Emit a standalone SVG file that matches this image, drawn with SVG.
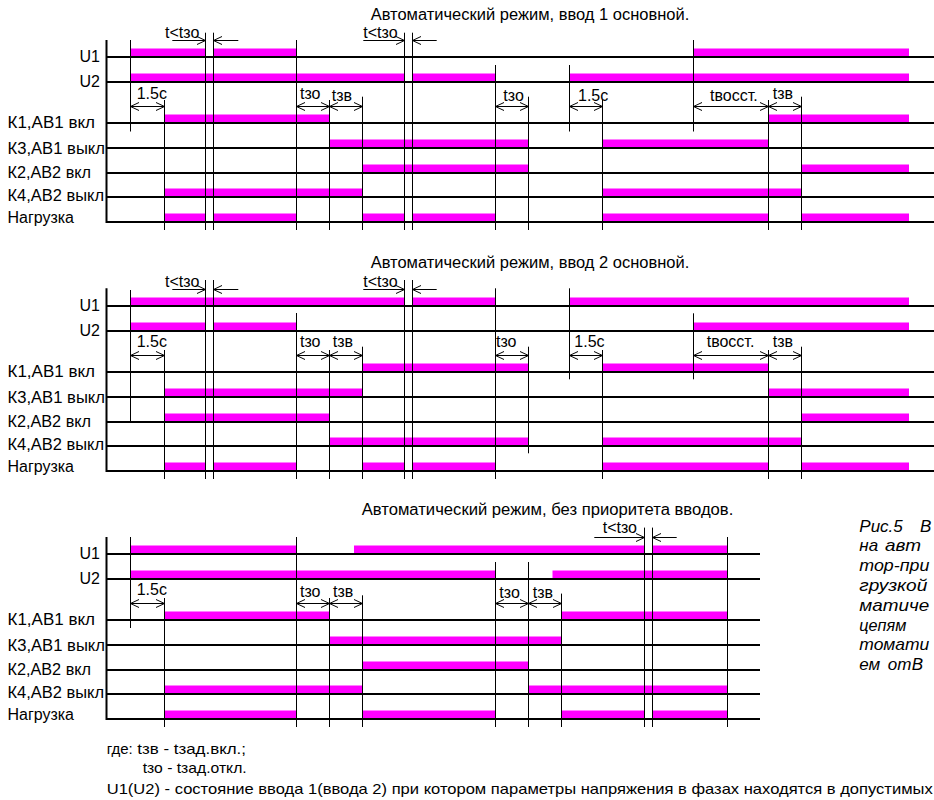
<svg xmlns="http://www.w3.org/2000/svg" width="934" height="800" viewBox="0 0 934 800">
<style>
text{font-family:"Liberation Sans",Arial,sans-serif;fill:#000}
.lbl{font-size:16px}
.sm{font-size:16px}
.ttl{font-size:16px}
.bl{stroke:#000;stroke-width:2;fill:none}
.v{stroke:#000;stroke-width:1;fill:none}
.bar{stroke:#ff00ff;stroke-width:7.5;fill:none}
.dim{stroke:#000;stroke-width:1;fill:none;marker-start:url(#ah);marker-end:url(#ah)}
.one{stroke:#000;stroke-width:1;fill:none;marker-end:url(#ah)}
.note{font-size:15px}
.it{font-size:17px;font-style:italic}
</style>
<defs>
<marker id="ah" viewBox="-10 -5 11 10" refX="0" refY="0" markerWidth="11" markerHeight="10" markerUnits="userSpaceOnUse" orient="auto-start-reverse"><path d="M-8.5,-4 L0,0 L-8.5,4" fill="none" stroke="#000" stroke-width="1"/></marker>
</defs>

<!-- Diagram 1 -->
<g id="diagram1">
<text class="ttl" x="370.7" y="20" textLength="318.6" lengthAdjust="spacingAndGlyphs">Автоматический режим, ввод 1 основной.</text>
<g id="d1-labels">
<text class="lbl" x="100" y="62.3" text-anchor="end">U1</text>
<text class="lbl" x="100" y="86.7" text-anchor="end">U2</text>
<text class="lbl" x="7.5" y="127.7" textLength="87.5" lengthAdjust="spacingAndGlyphs">К1,АВ1 вкл</text>
<text class="lbl" x="7.5" y="154" textLength="97.5" lengthAdjust="spacingAndGlyphs">К3,АВ1 выкл</text>
<text class="lbl" x="7.5" y="177.7" textLength="83.5" lengthAdjust="spacingAndGlyphs">К2,АВ2 вкл</text>
<text class="lbl" x="7.5" y="201" textLength="96.5" lengthAdjust="spacingAndGlyphs">К4,АВ2 выкл</text>
<text class="lbl" x="7.5" y="223.3" textLength="66.5" lengthAdjust="spacingAndGlyphs">Нагрузка</text>
</g>
<g id="d1-bars" class="bar">
<path d="M130.5,52.25H205.5M213.5,52.25H296.5M693.5,52.25H909"/>
<path d="M130.5,77.25H404.5M412.5,77.25H495.5M569.5,77.25H909"/>
<path d="M164.5,118.25H329.5M768.5,118.25H909"/>
<path d="M329.5,143.25H528.5M602.5,143.25H768.5"/>
<path d="M362.5,168.25H528.5M801.5,168.25H909"/>
<path d="M164.5,192.25H362.5M602.5,192.25H801.5"/>
<path d="M164.5,217.25H205.5M213.5,217.25H296.5M362.5,217.25H404.5M412.5,217.25H495.5M602.5,217.25H768.5M801.5,217.25H909"/>
</g>
<path class="bl" d="M106.5,40V223M106,57H934M106,82H934M106,123H934M106,148H934M106,173H934M106,197H934M106,222H934"/>
<path class="v" d="M130.5,40V131.5M164.5,100V230M205.5,32.7V230M213.5,32.7V230M296.5,40V230M329.5,100V230M362.5,96.7V230M404.5,32.7V230M412.5,32.7V230M495.5,65V230M528.5,96.7V230M569.5,65V131.5M602.5,100V230M693.5,40V131.5M768.5,100V230M801.5,96.7V230"/>
<g id="d1-connectors">
<line class="dim" x1="130.5" y1="106.5" x2="164.5" y2="106.5"/>
<line class="dim" x1="296.5" y1="106.5" x2="329.5" y2="106.5"/>
<line class="dim" x1="329.5" y1="106.5" x2="362.5" y2="106.5"/>
<line class="dim" x1="495.5" y1="106.5" x2="528.5" y2="106.5"/>
<line class="dim" x1="569.5" y1="106.5" x2="602.5" y2="106.5"/>
<line class="dim" x1="693.5" y1="106.5" x2="768.5" y2="106.5"/>
<line class="dim" x1="768.5" y1="106.5" x2="801.5" y2="106.5"/>
<line class="one" x1="172.3" y1="40.5" x2="205.5" y2="40.5"/>
<line class="one" x1="238.3" y1="40.5" x2="213.5" y2="40.5"/>
<line class="one" x1="363.3" y1="40.5" x2="404.5" y2="40.5"/>
<line class="one" x1="436.7" y1="40.5" x2="412.5" y2="40.5"/>
</g>
<g id="d1-dimlabels">
<text class="sm" x="165" y="38">t&lt;tзо</text>
<text class="sm" x="363.3" y="38">t&lt;tзо</text>
<text class="sm" x="136.7" y="99">1.5с</text>
<text class="sm" x="300" y="98.5">tзо</text>
<text class="sm" x="331.7" y="101">tзв</text>
<text class="sm" x="503.3" y="100.5">tзо</text>
<text class="sm" x="578" y="100.5">1.5с</text>
<text class="sm" x="710" y="100.5">tвосст.</text>
<text class="sm" x="772.7" y="98.5">tзв</text>
</g>
</g>

<!-- Diagram 2 -->
<g id="diagram2" transform="translate(0,249)">
<text class="ttl" x="370.7" y="19.3" textLength="318.6" lengthAdjust="spacingAndGlyphs">Автоматический режим, ввод 2 основной.</text>
<g id="d2-labels">
<text class="lbl" x="100" y="62.3" text-anchor="end">U1</text>
<text class="lbl" x="100" y="86.7" text-anchor="end">U2</text>
<text class="lbl" x="7.5" y="127.7" textLength="87.5" lengthAdjust="spacingAndGlyphs">К1,АВ1 вкл</text>
<text class="lbl" x="7.5" y="154" textLength="97.5" lengthAdjust="spacingAndGlyphs">К3,АВ1 выкл</text>
<text class="lbl" x="7.5" y="177.7" textLength="83.5" lengthAdjust="spacingAndGlyphs">К2,АВ2 вкл</text>
<text class="lbl" x="7.5" y="201" textLength="96.5" lengthAdjust="spacingAndGlyphs">К4,АВ2 выкл</text>
<text class="lbl" x="7.5" y="223.3" textLength="66.5" lengthAdjust="spacingAndGlyphs">Нагрузка</text>
</g>
<g id="d2-bars" class="bar">
<path d="M130.5,52.25H404.5M412.5,52.25H495.5M569.5,52.25H909"/>
<path d="M130.5,77.25H205.5M213.5,77.25H296.5M693.5,77.25H909"/>
<path d="M362.5,118.25H528.5M602.5,118.25H768.5"/>
<path d="M164.5,143.25H362.5M768.5,143.25H909"/>
<path d="M164.5,168.25H329.5M801.5,168.25H909"/>
<path d="M329.5,192.25H528.5M602.5,192.25H801.5"/>
<path d="M164.5,217.25H205.5M213.5,217.25H296.5M362.5,217.25H404.5M412.5,217.25H495.5M602.5,217.25H768.5M801.5,217.25H909"/>
</g>
<path class="bl" d="M106.5,39.3V223M106,57H934M106,82H934M106,123H934M106,148H934M106,173H934M106,197H934M106,222H934"/>
<path class="v" d="M130.5,41V173M164.5,101V230M205.5,31V230M213.5,31V230M296.5,64V230M329.5,101V230M362.5,97.7V230M404.5,31V230M412.5,31V230M495.5,39.3V230M528.5,97.7V204.3M569.5,39.3V130.3M602.5,101V230M693.5,64.3V130.3M768.5,101V230M801.5,97.7V230"/>
<g id="d2-connectors">
<line class="dim" x1="130.5" y1="106.5" x2="164.5" y2="106.5"/>
<line class="dim" x1="296.5" y1="106.5" x2="329.5" y2="106.5"/>
<line class="dim" x1="329.5" y1="106.5" x2="362.5" y2="106.5"/>
<line class="dim" x1="495.5" y1="106.5" x2="528.5" y2="106.5"/>
<line class="dim" x1="569.5" y1="106.5" x2="602.5" y2="106.5"/>
<line class="dim" x1="693.5" y1="106.5" x2="768.5" y2="106.5"/>
<line class="dim" x1="768.5" y1="106.5" x2="801.5" y2="106.5"/>
<line class="one" x1="172.3" y1="40.5" x2="205.5" y2="40.5"/>
<line class="one" x1="238.3" y1="40.5" x2="213.5" y2="40.5"/>
<line class="one" x1="363.3" y1="40.5" x2="404.5" y2="40.5"/>
<line class="one" x1="436.7" y1="40.5" x2="412.5" y2="40.5"/>
</g>
<g id="d2-dimlabels">
<text class="sm" x="165" y="38">t&lt;tзо</text>
<text class="sm" x="363.3" y="38">t&lt;tзо</text>
<text class="sm" x="136.7" y="98">1.5с</text>
<text class="sm" x="300" y="98">tзо</text>
<text class="sm" x="332.7" y="98">tзв</text>
<text class="sm" x="496" y="98">tзо</text>
<text class="sm" x="574.3" y="98">1.5с</text>
<text class="sm" x="706.7" y="98">tвосст.</text>
<text class="sm" x="772.7" y="98">tзв</text>
</g>
</g>

<!-- Diagram 3 -->
<g id="diagram3" transform="translate(0,497)">
<text class="ttl" x="361.7" y="18" textLength="371.6" lengthAdjust="spacingAndGlyphs">Автоматический режим, без приоритета вводов.</text>
<g id="d3-labels">
<text class="lbl" x="100" y="62.3" text-anchor="end">U1</text>
<text class="lbl" x="100" y="86.7" text-anchor="end">U2</text>
<text class="lbl" x="7.5" y="127.7" textLength="87.5" lengthAdjust="spacingAndGlyphs">К1,АВ1 вкл</text>
<text class="lbl" x="7.5" y="154" textLength="97.5" lengthAdjust="spacingAndGlyphs">К3,АВ1 выкл</text>
<text class="lbl" x="7.5" y="177.7" textLength="83.5" lengthAdjust="spacingAndGlyphs">К2,АВ2 вкл</text>
<text class="lbl" x="7.5" y="201" textLength="96.5" lengthAdjust="spacingAndGlyphs">К4,АВ2 выкл</text>
<text class="lbl" x="7.5" y="223.3" textLength="66.5" lengthAdjust="spacingAndGlyphs">Нагрузка</text>
</g>
<g id="d3-bars" class="bar">
<path d="M130.5,52.25H296.5M354,52.25H644.5M652.5,52.25H727.5"/>
<path d="M130.5,77.25H495.5M552.5,77.25H727.5"/>
<path d="M164.5,118.25H329.5M561.5,118.25H727.5"/>
<path d="M329.5,143.25H561.5"/>
<path d="M362.5,168.25H528.5"/>
<path d="M164.5,192.25H362.5M528.5,192.25H727.5"/>
<path d="M164.5,217.25H296.5M362.5,217.25H495.5M561.5,217.25H644.5M652.5,217.25H727.5"/>
</g>
<path class="bl" d="M106.5,40V223M106,57H760M106,82H760M106,123H760M106,148H760M106,173H760M106,197H760M106,222H760"/>
<path class="v" d="M130.5,40V131M164.5,101V230M296.5,40V230M329.5,101V230M362.5,98.3V230M495.5,65V230M528.5,65V230M561.5,96.6V230M644.5,30.6V230M652.5,30.6V230M727.5,40V230"/>
<g id="d3-connectors">
<line class="dim" x1="130.5" y1="106.5" x2="164.5" y2="106.5"/>
<line class="dim" x1="296.5" y1="106.5" x2="329.5" y2="106.5"/>
<line class="dim" x1="329.5" y1="106.5" x2="362.5" y2="106.5"/>
<line class="dim" x1="495.5" y1="106.5" x2="528.5" y2="106.5"/>
<line class="dim" x1="528.5" y1="106.5" x2="561.5" y2="106.5"/>
<line class="one" x1="594.3" y1="40.5" x2="644.5" y2="40.5"/>
<line class="one" x1="676.7" y1="40.5" x2="652.5" y2="40.5"/>
</g>
<g id="d3-dimlabels">
<text class="sm" x="602.7" y="36">t&lt;tзо</text>
<text class="sm" x="136.7" y="98.3">1.5с</text>
<text class="sm" x="300" y="100">tзо</text>
<text class="sm" x="333" y="100">tзв</text>
<text class="sm" x="499.3" y="100.5">tзо</text>
<text class="sm" x="532.7" y="100.5">tзв</text>
</g>
</g>

<!-- Caption on the right -->
<g id="caption">
<text class="it" y="531.5"><tspan x="859.3">Рис.5</tspan><tspan x="920">В</tspan></text>
<text class="it" y="551.3"><tspan x="859.3">на</tspan><tspan x="885" textLength="36" lengthAdjust="spacingAndGlyphs">авт</tspan></text>
<text class="it" x="859.3" y="571.1" textLength="70" lengthAdjust="spacingAndGlyphs">тор-при</text>
<text class="it" x="859.3" y="590.9" textLength="68" lengthAdjust="spacingAndGlyphs">грузкой</text>
<text class="it" x="859.3" y="610.7" textLength="70" lengthAdjust="spacingAndGlyphs">матиче</text>
<text class="it" x="859.3" y="630.5" textLength="47" lengthAdjust="spacingAndGlyphs">цепям</text>
<text class="it" x="859.3" y="650.3" textLength="70" lengthAdjust="spacingAndGlyphs">томати</text>
<text class="it" y="670.1"><tspan x="859.3">ем</tspan><tspan x="887.7">от</tspan><tspan x="911.7">В</tspan></text>
</g>

<!-- Notes at the bottom -->
<g id="notes">
<text class="note" x="106.7" y="754">где:</text>
<text class="note" x="137.3" y="754" textLength="108.7" lengthAdjust="spacingAndGlyphs">tзв - tзад.вкл.;</text>
<text class="note" x="142.7" y="772.7" textLength="104" lengthAdjust="spacingAndGlyphs">tзо - tзад.откл.</text>
<text class="note" x="106.7" y="794" textLength="826" lengthAdjust="spacingAndGlyphs">U1(U2) - состояние ввода 1(ввода 2) при котором параметры напряжения в фазах находятся в допустимых</text>
</g>
</svg>
